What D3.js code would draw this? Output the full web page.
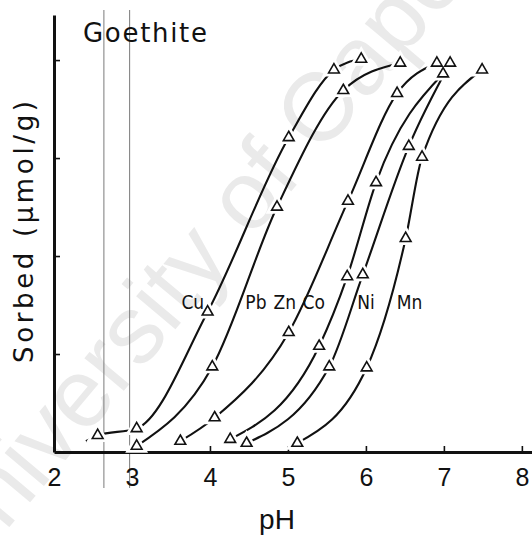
<!DOCTYPE html>
<html><head><meta charset="utf-8">
<script src="https://cdn.jsdelivr.net/npm/d3@7"></script>
<style>html,body{margin:0;padding:0;background:#fff}svg{display:block}</style>
</head><body>
<svg id="chart" width="532" height="539"></svg>
<script>
// Sorption edges of metal cations on goethite: amount sorbed vs pH
const metals = ["Cu", "Pb", "Zn", "Co", "Ni", "Mn"];

const phCu = [2.56, 3.06, 3.97, 5.01, 5.59, 5.94];
const sorbedCu = [0.17, 0.24, 1.43, 3.21, 3.90, 4.01];

const phPb = [3.06, 4.03, 4.86, 5.71, 6.44];
const sorbedPb = [0.06, 0.87, 2.50, 3.69, 3.97];

const phZn = [3.62, 4.06, 5.01, 5.77, 6.40, 6.91];
const sorbedZn = [0.11, 0.35, 1.22, 2.56, 3.66, 3.97];

const phCo = [4.26, 5.40, 5.76, 6.13, 6.99];
const sorbedCo = [0.13, 1.08, 1.79, 2.75, 3.86];

const phNi = [4.47, 5.53, 5.96, 6.55, 7.08];
const sorbedNi = [0.09, 0.87, 1.81, 3.12, 3.97];

const phMn = [5.12, 6.01, 6.51, 6.72, 7.49];
const sorbedMn = [0.09, 0.86, 2.18, 3.01, 3.90];

// where the Cu curve begins before its first measured point
const cuLeadIn = [2.41, 0.11];

// curve labels, placed at (pH, sorbed)
const labelPH = [3.78, 4.59, 4.96, 5.33, 6.00, 6.56];
const labelSorbed = 1.53;

const xTicks = [2, 3, 4, 5, 6, 7, 8];
const yTicks = [1, 2, 3, 4];
const guidePH = [2.64, 2.97];

const seriesPH = [phCu, phPb, phZn, phCo, phNi, phMn];
const seriesSorbed = [sorbedCu, sorbedPb, sorbedZn, sorbedCo, sorbedNi, sorbedMn];
const series = metals.map((m, i) => ({
  name: m,
  points: seriesPH[i].map((p, j) => [p, seriesSorbed[i][j]])
}));

const svg = d3.select("#chart");
const x = d3.scaleLinear().domain([2, 8.13]).range([54, 532]);
const y = d3.scaleLinear().domain([0, 4.46]).range([452, 15]);

// faint background watermark
svg.append("text")
  .attr("transform", "translate(-40,586) rotate(-50)")
  .attr("font-family", "Liberation Sans, Arial, sans-serif")
  .attr("font-size", 97)
  .attr("fill", "#eaeaea")
  .text("University of Cape Town");

// thin vertical guide lines
svg.selectAll("line.guide").data(guidePH).join("line")
  .attr("class", "guide")
  .attr("x1", d => x(d)).attr("x2", d => x(d))
  .attr("y1", 10).attr("y2", 488)
  .attr("stroke", "#7a7a7a").attr("stroke-width", 1);

// axes
const xAxis = d3.axisBottom(x).tickValues(xTicks).tickFormat(d3.format("d"))
  .tickSizeInner(-6).tickSizeOuter(0).tickPadding(16);
const gx = svg.append("g").attr("transform", `translate(0,${y(0)})`).call(xAxis);
gx.select(".domain").attr("stroke-width", 3).attr("stroke", "#111");
gx.selectAll(".tick line").attr("stroke-width", 1.6).attr("stroke", "#111");
gx.selectAll(".tick text")
  .attr("font-family", "Liberation Sans, Arial, sans-serif")
  .attr("font-size", 25).attr("fill", "#111");

const yAxis = d3.axisLeft(y).tickValues(yTicks).tickSizeInner(-6).tickSizeOuter(0).tickFormat("");
const gy = svg.append("g").attr("transform", `translate(${x(2)},0)`).call(yAxis);
gy.select(".domain").attr("stroke-width", 3).attr("stroke", "#111");
gy.selectAll(".tick line").attr("stroke-width", 1.6).attr("stroke", "#111");

// curves
const line = d3.line().x(d => x(d[0])).y(d => y(d[1])).curve(d3.curveMonotoneX);
svg.selectAll("path.curve").data(series).join("path")
  .attr("class", "curve")
  .attr("d", d => line(d.name === "Cu" ? [cuLeadIn, ...d.points] : d.points))
  .attr("fill", "none").attr("stroke", "#111").attr("stroke-width", 2.1);

// triangle markers, with a white halo that breaks the curve around them
const tri = d3.symbol().type(d3.symbolTriangle).size(50);
const allPts = series.flatMap(s => s.points);
svg.selectAll("path.halo").data(allPts).join("path")
  .attr("class", "halo")
  .attr("transform", d => `translate(${x(d[0])},${y(d[1])})`)
  .attr("d", tri).attr("fill", "#fff").attr("stroke", "#fff").attr("stroke-width", 7);
svg.selectAll("path.marker").data(allPts).join("path")
  .attr("class", "marker")
  .attr("transform", d => `translate(${x(d[0])},${y(d[1])})`)
  .attr("d", tri).attr("fill", "#fff").attr("stroke", "#111").attr("stroke-width", 1.6);

// curve labels
svg.selectAll("text.metal").data(metals).join("text")
  .attr("class", "metal")
  .attr("x", (d, i) => x(labelPH[i]))
  .attr("y", y(labelSorbed))
  .attr("dy", "0.36em")
  .attr("text-anchor", "middle")
  .attr("font-family", "Liberation Sans Narrow, DejaVu Sans Condensed, sans-serif")
  .attr("font-size", 19).attr("fill", "#111")
  .text(d => d);

// title and axis titles
svg.append("text")
  .attr("x", 83).attr("y", 42)
  .attr("font-family", "DejaVu Sans, sans-serif")
  .attr("font-size", 26).attr("fill", "#111")
  .attr("textLength", 124).attr("lengthAdjust", "spacing")
  .text("Goethite");

svg.append("text")
  .attr("transform", "translate(33,232) rotate(-90)")
  .attr("text-anchor", "middle")
  .attr("font-family", "DejaVu Sans, sans-serif")
  .attr("font-size", 26).attr("fill", "#111")
  .attr("textLength", 262).attr("lengthAdjust", "spacing")
  .text("Sorbed (µmol/g)");

svg.append("text")
  .attr("x", 277).attr("y", 529)
  .attr("text-anchor", "middle")
  .attr("font-family", "Liberation Sans, Arial, sans-serif")
  .attr("font-size", 28).attr("fill", "#111")
  .text("pH");
</script>
</body></html>
